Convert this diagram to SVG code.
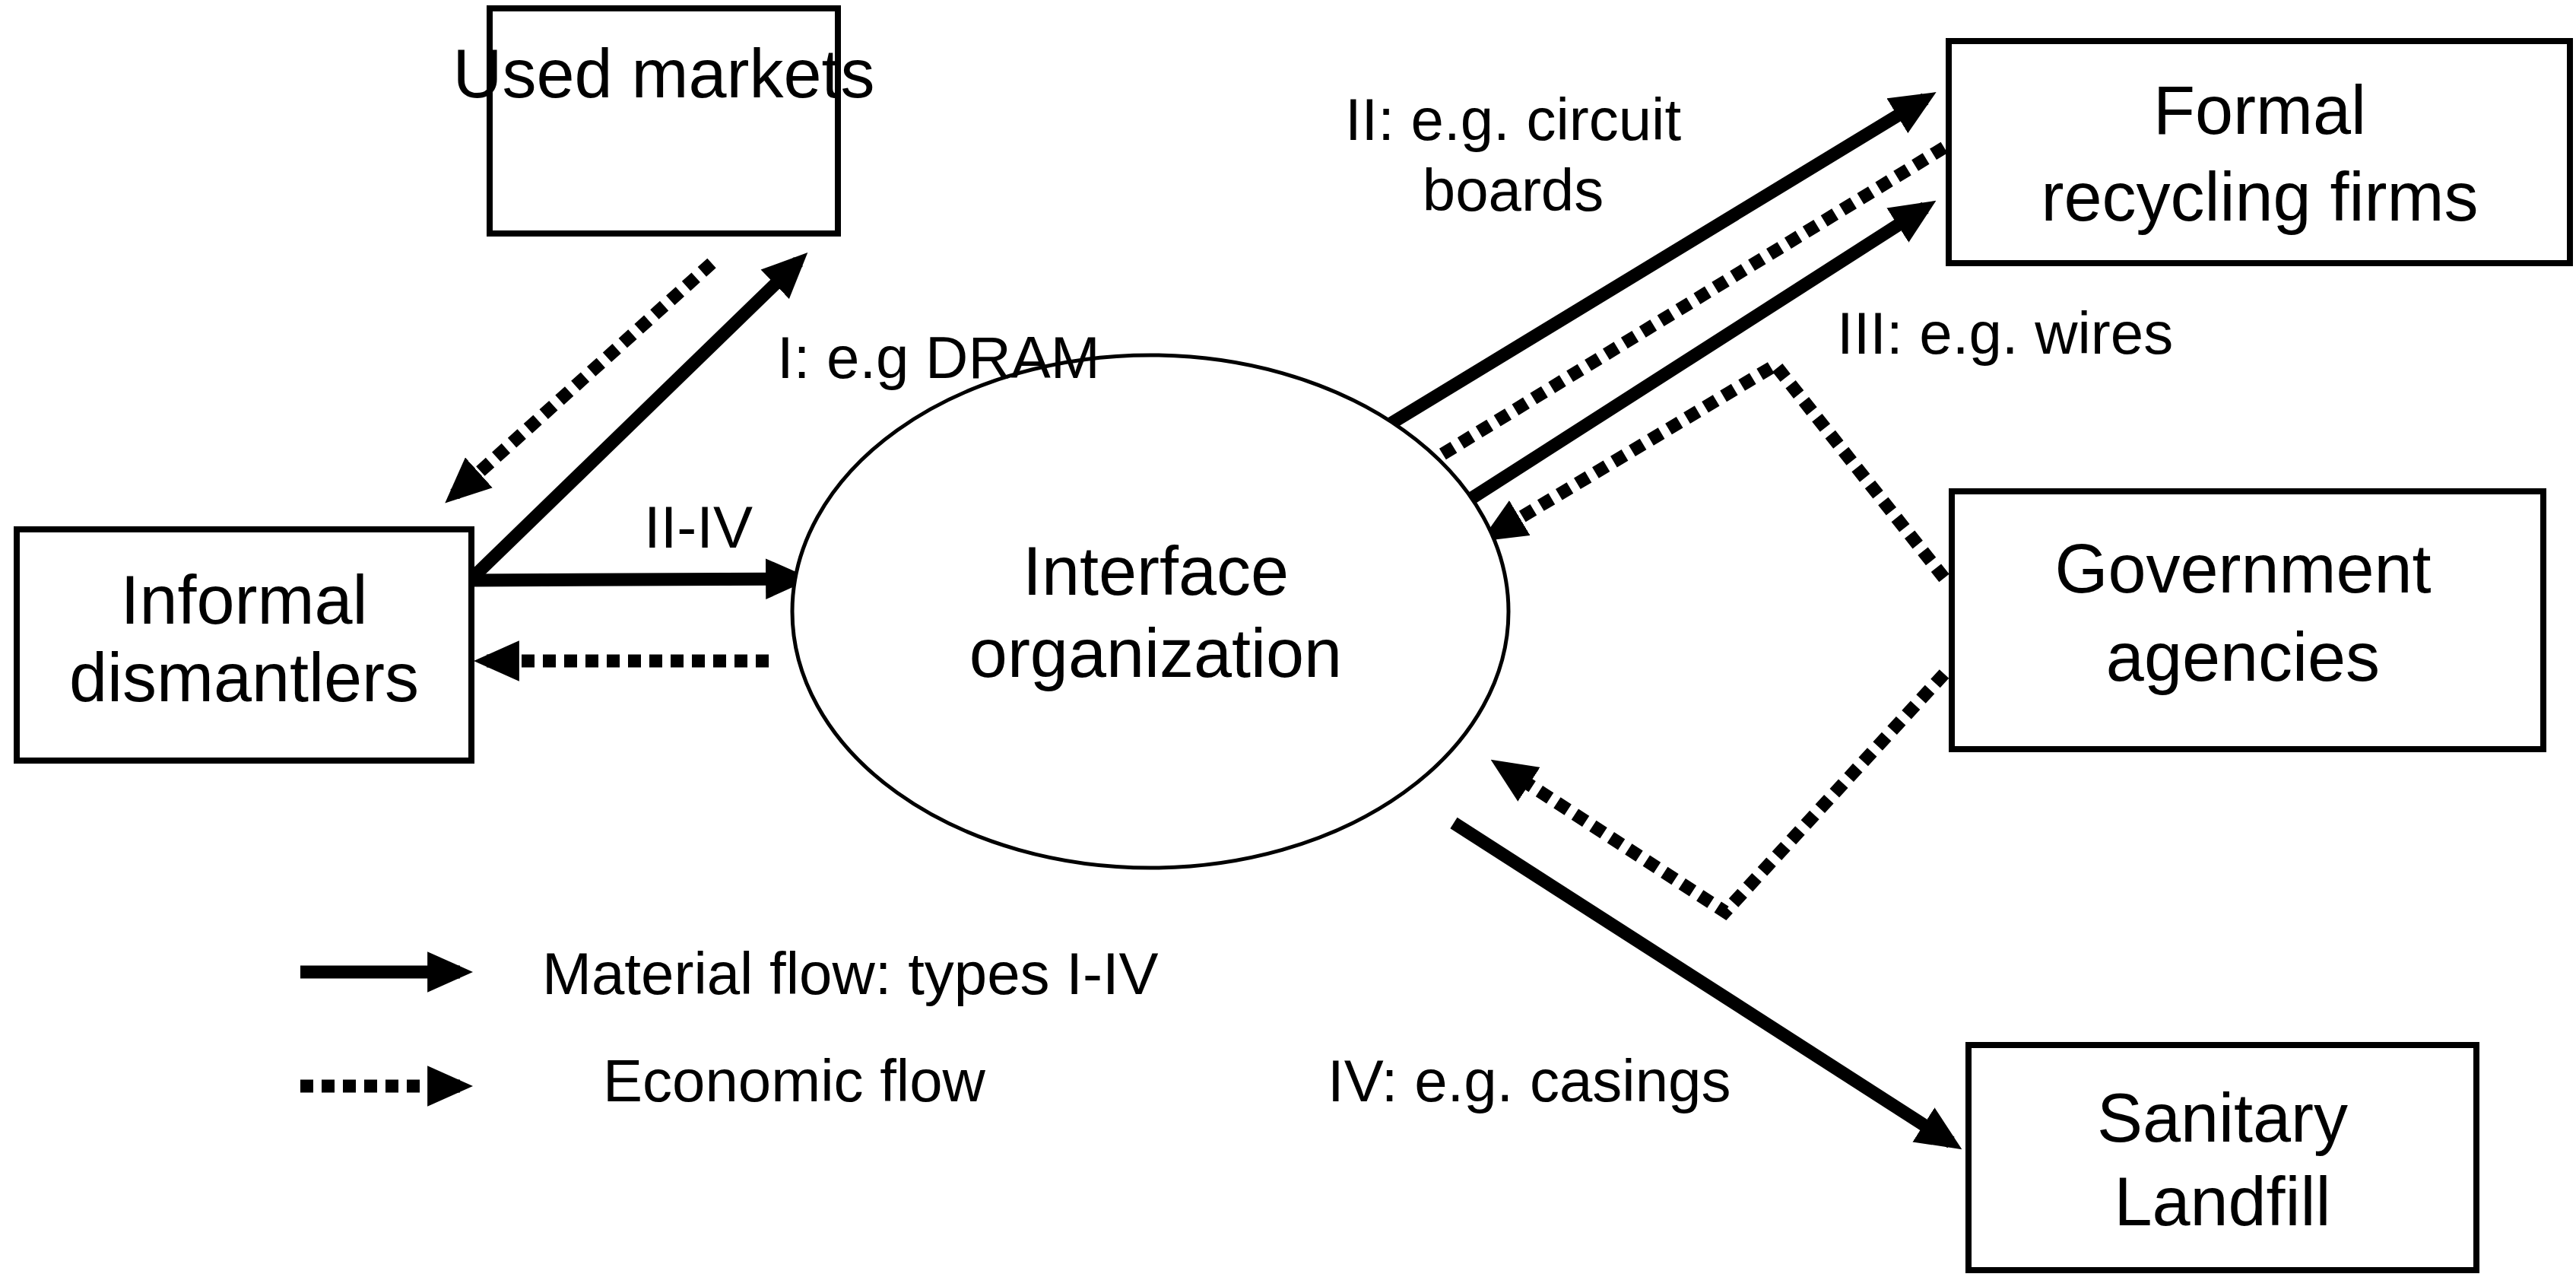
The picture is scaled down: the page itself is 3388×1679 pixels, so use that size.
<svg xmlns="http://www.w3.org/2000/svg" width="3388" height="1679" viewBox="0 0 3388 1679">
<style>
.box{fill:#fff;stroke:#000;stroke-width:8}
.n{font-family:"Liberation Sans",Arial,sans-serif;font-size:90px;text-anchor:middle;fill:#000}
.l{font-family:"Liberation Sans",Arial,sans-serif;font-size:78px;fill:#000}
.s{fill:none;stroke:#000;stroke-width:17;marker-end:url(#ah)}
.d{fill:none;stroke:#000;stroke-width:17;stroke-dasharray:17 11;marker-end:url(#ah)}
</style>
<defs>
<marker id="ah" markerUnits="userSpaceOnUse" markerWidth="60" markerHeight="54" refX="40" refY="25" orient="auto" viewBox="0 0 56 50">
<path d="M0,0 L56,25 L0,50 z" fill="#000"/>
</marker>
</defs>
<g id="connectors">
<line class="s" x1="620" y1="761" x2="1050" y2="344"/>
<line class="s" x1="620" y1="763" x2="1050" y2="761"/>
<line class="d" x1="1011" y1="869" x2="640" y2="869"/>
<line class="d" x1="936" y1="346" x2="598" y2="650"/>
<line class="s" x1="1778" y1="588" x2="2532" y2="130"/>
<line class="d" x1="2557" y1="194" x2="1832" y2="637"/>
<line class="s" x1="1895" y1="681" x2="2532" y2="273"/>
<polyline class="d" points="2557,760 2335,480 1962,703"/>
<polyline class="d" points="2557,886 2269,1199 1975,1008"/>
<line class="s" x1="1912" y1="1082" x2="2566" y2="1502"/>
<line class="s" x1="395" y1="1278" x2="605" y2="1278"/>
<line class="d" x1="395" y1="1428" x2="605" y2="1428"/>
</g>
<g id="used-markets"><rect class="box" x="644" y="11" width="458" height="296"/><text class="n" x="873" y="128">Used markets</text></g>
<g id="informal-dismantlers"><rect class="box" x="22" y="696" width="598" height="304"/><text class="n" x="321" y="820">Informal</text><text class="n" x="321" y="922">dismantlers</text></g>
<g id="interface-organization"><ellipse cx="1513" cy="804" rx="471" ry="337" fill="#fff" stroke="#000" stroke-width="5"/><text class="n" x="1520" y="782">Interface</text><text class="n" x="1520" y="890">organization</text></g>
<g id="formal-recycling"><rect class="box" x="2563" y="54" width="817" height="292"/><text class="n" x="2972" y="176">Formal</text><text class="n" x="2972" y="290">recycling firms</text></g>
<g id="government-agencies"><rect class="box" x="2567" y="646" width="778" height="339"/><text class="n" x="2950" y="779">Government</text><text class="n" x="2950" y="895">agencies</text></g>
<g id="sanitary-landfill"><rect class="box" x="2589" y="1374" width="668" height="296"/><text class="n" x="2923" y="1501">Sanitary</text><text class="n" x="2923" y="1611">Landfill</text></g>
<g id="labels">
<text class="l" x="1022" y="497">I: e.g DRAM</text>
<text class="l" x="847" y="720">II-IV</text>
<text class="l" x="1990" y="184" text-anchor="middle">II: e.g. circuit</text>
<text class="l" x="1990" y="277" text-anchor="middle">boards</text>
<text class="l" x="2416" y="465">III: e.g. wires</text>
<text class="l" x="1746" y="1448">IV: e.g. casings</text>
<text class="l" x="713" y="1307">Material flow: types I-IV</text>
<text class="l" x="793" y="1448">Economic flow</text>
</g>
</svg>
